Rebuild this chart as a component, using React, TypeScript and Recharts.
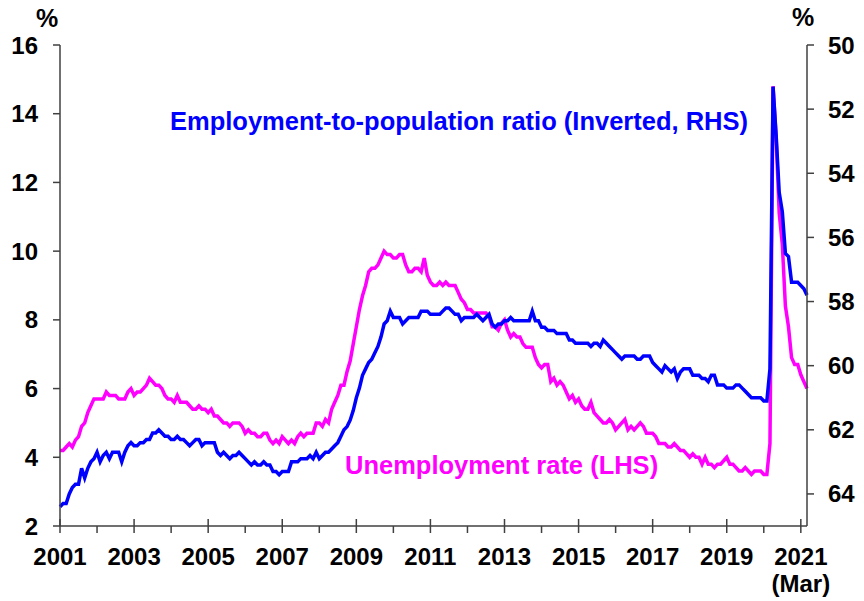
import React from "react"
import { LineChart, Line, XAxis, YAxis } from "recharts"

// US unemployment rate (%), monthly, Jan 2001 - Mar 2021
const unemployment: number[] = [
  4.2, 4.2, 4.3, 4.4, 4.3, 4.5, 4.6, 4.9, 5.0, 5.3, 5.5, 5.7,
  5.7, 5.7, 5.7, 5.9, 5.8, 5.8, 5.8, 5.7, 5.7, 5.7, 5.9, 6.0,
  5.8, 5.9, 5.9, 6.0, 6.1, 6.3, 6.2, 6.1, 6.1, 6.0, 5.8, 5.7,
  5.7, 5.6, 5.8, 5.6, 5.6, 5.6, 5.5, 5.4, 5.4, 5.5, 5.4, 5.4,
  5.3, 5.4, 5.2, 5.2, 5.1, 5.0, 5.0, 4.9, 5.0, 5.0, 5.0, 4.9,
  4.7, 4.8, 4.7, 4.7, 4.6, 4.6, 4.7, 4.7, 4.5, 4.4, 4.5, 4.4,
  4.6, 4.5, 4.4, 4.5, 4.4, 4.6, 4.7, 4.6, 4.7, 4.7, 4.7, 5.0,
  5.0, 4.9, 5.1, 5.0, 5.4, 5.6, 5.8, 6.1, 6.1, 6.5, 6.8, 7.3,
  7.8, 8.3, 8.7, 9.0, 9.4, 9.5, 9.5, 9.6, 9.8, 10.0, 9.9, 9.9,
  9.8, 9.8, 9.9, 9.9, 9.6, 9.4, 9.4, 9.5, 9.5, 9.4, 9.8, 9.3,
  9.1, 9.0, 9.0, 9.1, 9.0, 9.1, 9.0, 9.0, 9.0, 8.8, 8.6, 8.5,
  8.3, 8.3, 8.2, 8.2, 8.2, 8.2, 8.2, 8.1, 7.8, 7.8, 7.7, 7.9,
  8.0, 7.7, 7.5, 7.6, 7.5, 7.5, 7.3, 7.2, 7.2, 7.2, 6.9, 6.7,
  6.6, 6.7, 6.7, 6.2, 6.3, 6.1, 6.2, 6.1, 5.9, 5.7, 5.8, 5.6,
  5.7, 5.5, 5.4, 5.4, 5.6, 5.3, 5.2, 5.1, 5.0, 5.0, 5.1, 5.0,
  4.8, 4.9, 5.0, 5.1, 4.8, 4.9, 4.8, 4.9, 5.0, 4.9, 4.7, 4.7,
  4.7, 4.6, 4.4, 4.4, 4.4, 4.3, 4.3, 4.4, 4.3, 4.2, 4.2, 4.1,
  4.0, 4.1, 4.0, 4.0, 3.8, 4.0, 3.8, 3.8, 3.7, 3.8, 3.8, 3.9,
  4.0, 3.8, 3.8, 3.7, 3.6, 3.6, 3.7, 3.6, 3.5, 3.6, 3.6, 3.6,
  3.5, 3.5, 4.4, 14.8, 13.3, 11.1, 10.2, 8.4, 7.8, 6.9, 6.7, 6.7,
  6.4, 6.2, 6.0,
]

// employment-to-population ratio (%), same months
const empPop: number[] = [
  64.4, 64.3, 64.3, 64.0, 63.8, 63.7, 63.7, 63.2, 63.5, 63.2, 63.0, 62.9,
  62.7, 63.0, 62.8, 62.7, 62.9, 62.7, 62.7, 62.7, 63.0, 62.7, 62.5, 62.4,
  62.5, 62.5, 62.4, 62.4, 62.3, 62.3, 62.1, 62.1, 62.0, 62.1, 62.2, 62.2,
  62.3, 62.3, 62.2, 62.3, 62.3, 62.4, 62.5, 62.4, 62.3, 62.3, 62.5, 62.4,
  62.4, 62.4, 62.4, 62.7, 62.8, 62.7, 62.8, 62.9, 62.8, 62.8, 62.7, 62.8,
  62.9, 63.0, 63.1, 63.0, 63.1, 63.1, 63.0, 63.1, 63.1, 63.3, 63.3, 63.4,
  63.3, 63.3, 63.3, 63.0, 63.0, 63.0, 62.9, 62.9, 62.9, 62.8, 62.9, 62.7,
  62.9, 62.8, 62.7, 62.7, 62.6, 62.5, 62.4, 62.2, 62.0, 61.9, 61.7, 61.4,
  61.0, 60.7, 60.3, 60.1, 59.9, 59.8, 59.6, 59.4, 59.1, 58.7, 58.6, 58.3,
  58.5, 58.5, 58.5, 58.7, 58.6, 58.5, 58.5, 58.5, 58.5, 58.3, 58.3, 58.3,
  58.4, 58.4, 58.4, 58.4, 58.3, 58.2, 58.2, 58.3, 58.4, 58.4, 58.6, 58.5,
  58.5, 58.5, 58.5, 58.4, 58.5, 58.6, 58.5, 58.4, 58.7, 58.8, 58.7, 58.7,
  58.6, 58.6, 58.5, 58.6, 58.6, 58.6, 58.6, 58.6, 58.6, 58.3, 58.6, 58.6,
  58.8, 58.8, 58.9, 58.9, 58.9, 59.0, 59.0, 59.0, 59.0, 59.2, 59.2, 59.3,
  59.3, 59.3, 59.3, 59.3, 59.4, 59.3, 59.3, 59.4, 59.2, 59.3, 59.4, 59.5,
  59.6, 59.7, 59.8, 59.7, 59.7, 59.7, 59.7, 59.8, 59.8, 59.7, 59.7, 59.7,
  59.9, 60.0, 60.1, 60.2, 60.0, 60.1, 60.2, 60.1, 60.4, 60.2, 60.1, 60.1,
  60.1, 60.3, 60.3, 60.3, 60.4, 60.4, 60.5, 60.3, 60.3, 60.6, 60.6, 60.6,
  60.7, 60.7, 60.7, 60.6, 60.6, 60.7, 60.8, 60.9, 61.0, 61.0, 61.0, 61.0,
  61.1, 61.1, 60.1, 51.3, 52.8, 54.6, 55.2, 56.5, 56.6, 57.4, 57.4, 57.4,
  57.5, 57.6, 57.8,
]

const startYear = 2001
const yearTicks = [2001, 2002, 2003, 2004, 2005, 2006, 2007, 2008, 2009, 2010, 2011,
  2012, 2013, 2014, 2015, 2016, 2017, 2018, 2019, 2020, 2021]
const leftTicks = [2, 4, 6, 8, 10, 12, 14, 16]
const rightTicks = [50, 52, 54, 56, 58, 60, 62, 64]

const data = unemployment.map((u, i) => ({
  t: startYear + i / 12,
  unemp: u,
  epop: empPop[i],
}))

const FONT = "'Liberation Sans', Arial, sans-serif"
const AXIS = "#404040"

const XTick = (props: any) => {
  const { x, y, payload } = props
  const yr = payload.value as number
  const major = yr % 2 === 1
  return (
    <g>
      <line x1={x} x2={x} y1={major ? y - 7 : y} y2={y + 7} stroke={AXIS} strokeWidth={1.5} />
      {major && (
        <text x={x} y={y + 39} textAnchor="middle" fontFamily={FONT} fontWeight="bold" fontSize={24} fill="#000">
          {yr}
        </text>
      )}
      {yr === 2021 && (
        <text x={x} y={y + 66} textAnchor="middle" fontFamily={FONT} fontWeight="bold" fontSize={24} fill="#000">
          (Mar)
        </text>
      )}
    </g>
  )
}

const tickStyle = { fontFamily: FONT, fontWeight: "bold", fontSize: 24, fill: "#000" }

export default function App() {
  return (
    <div style={{ position: "absolute", left: 0, top: 0, width: 864, height: 601, background: "#fff", fontFamily: FONT }}>
      <LineChart width={864} height={601} data={data} margin={{ top: 45, right: 0, bottom: 0, left: 0 }}>
        <XAxis
          dataKey="t"
          type="number"
          domain={[2001, 2021 + 2 / 12]}
          ticks={yearTicks}
          interval={0}
          height={75}
          tickLine={false}
          tickSize={0}
          tickMargin={0}
          axisLine={{ stroke: AXIS, strokeWidth: 1.5 }}
          tick={<XTick />}
        />
        <YAxis
          yAxisId="left"
          orientation="left"
          width={60}
          domain={[2, 16]}
          ticks={leftTicks}
          interval={0}
          tickSize={7}
          tickMargin={15}
          axisLine={{ stroke: AXIS, strokeWidth: 1.5 }}
          tickLine={{ stroke: AXIS, strokeWidth: 1.5 }}
          tick={tickStyle}
        />
        <YAxis
          yAxisId="right"
          orientation="right"
          width={57}
          domain={[50, 65]}
          reversed
          ticks={rightTicks}
          interval={0}
          tickSize={7}
          tickMargin={14}
          axisLine={{ stroke: AXIS, strokeWidth: 1.5 }}
          tickLine={{ stroke: AXIS, strokeWidth: 1.5 }}
          tick={tickStyle}
        />
        <Line yAxisId="left" type="linear" dataKey="unemp" stroke="#FF00FF" strokeWidth={3.5} dot={false} isAnimationActive={false} />
        <Line yAxisId="right" type="linear" dataKey="epop" stroke="#0000FF" strokeWidth={3.5} dot={false} isAnimationActive={false} />
      </LineChart>
      <div style={{ position: "absolute", left: 36, top: 4, fontSize: 25, fontWeight: "bold", color: "#000" }}>%</div>
      <div style={{ position: "absolute", left: 792, top: 3, fontSize: 25, fontWeight: "bold", color: "#000" }}>%</div>
      <div style={{ position: "absolute", left: 170, top: 107, fontSize: 25.5, fontWeight: "bold", color: "#0000FF", whiteSpace: "nowrap" }}>
        Employment-to-population ratio (Inverted, RHS)
      </div>
      <div style={{ position: "absolute", left: 345, top: 451, fontSize: 25.5, fontWeight: "bold", color: "#FF00FF", whiteSpace: "nowrap" }}>
        Unemployment rate (LHS)
      </div>
    </div>
  )
}
